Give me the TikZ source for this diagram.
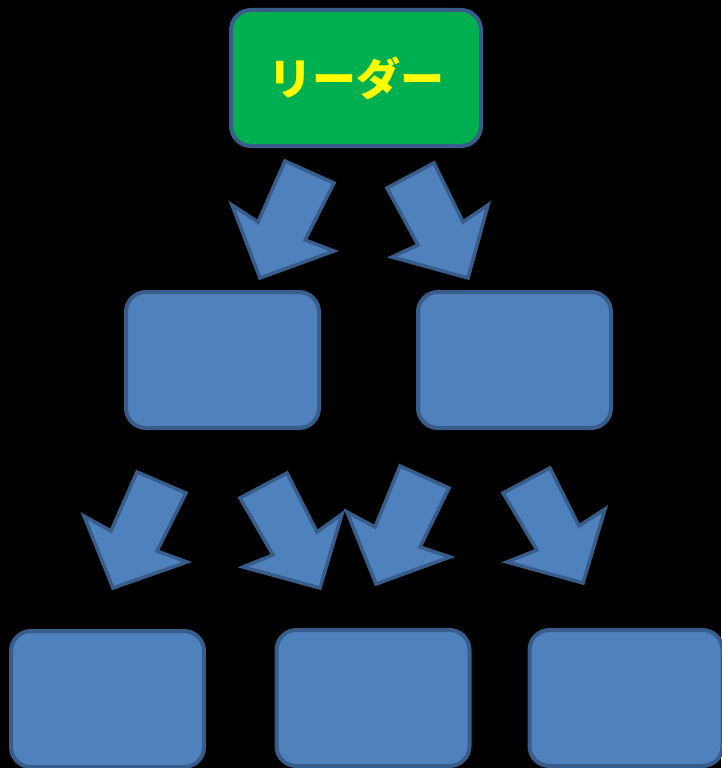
\documentclass[tikz,border=0pt]{standalone}
\usepackage{fontspec}
\newfontfamily\cjk{Noto Sans CJK JP}
\definecolor{boxblue}{HTML}{4F81BD}
\definecolor{edgeblue}{HTML}{385D8A}
\definecolor{leadgreen}{HTML}{00B050}
\definecolor{txtyellow}{HTML}{FFFF00}
\begin{document}
\begin{tikzpicture}[x=1pt,y=-1pt,
  boxnode/.style={draw=edgeblue,fill=boxblue,line width=4pt,rounded corners=20pt,minimum width=193pt,minimum height=136pt,inner sep=0pt},
  leadnode/.style={boxnode,fill=leadgreen,minimum width=250pt},
  blockarrow/.style={draw=edgeblue,fill=boxblue,line width=3.5pt,line join=miter}]
\fill[black] (0,0) rectangle (721,768);
\useasboundingbox (0,0) rectangle (721,768);
\node[leadnode] (lead) at (356,78) {\cjk\bfseries\fontsize{44pt}{50pt}\selectfont\color{txtyellow}リーダー};
\node[boxnode] (m1) at (222.5,360) {};
\node[boxnode] (m2) at (514.5,360) {};
\node[boxnode] (b1) at (107.5,699) {};
\node[boxnode] (b2) at (373,698) {};
\node[boxnode] (b3) at (626,698) {};
% block arrows
\draw[blockarrow] (285,161)--(334,183)--(305,240)--(334,251)--(260,278)--(232,205)--(258,222)--cycle;
\draw[blockarrow] (387,188)--(434,163)--(463,222)--(488,205)--(468,278)--(392,257)--(418,245)--cycle;
\draw[blockarrow] (137,472)--(186,493)--(157,551)--(187,562)--(113,588)--(84,516)--(111,531)--cycle;
\draw[blockarrow] (240,498)--(287,473)--(317,532)--(342,514)--(320,588)--(243,567)--(273,555)--cycle;
\draw[blockarrow] (400,466)--(449,488)--(420,547)--(450,557)--(376,584)--(347,512)--(375,527)--cycle;
\draw[blockarrow] (503,493)--(550,468)--(579,526)--(605,509)--(583,583)--(507,562)--(537,550)--cycle;
\end{tikzpicture}
\end{document}
